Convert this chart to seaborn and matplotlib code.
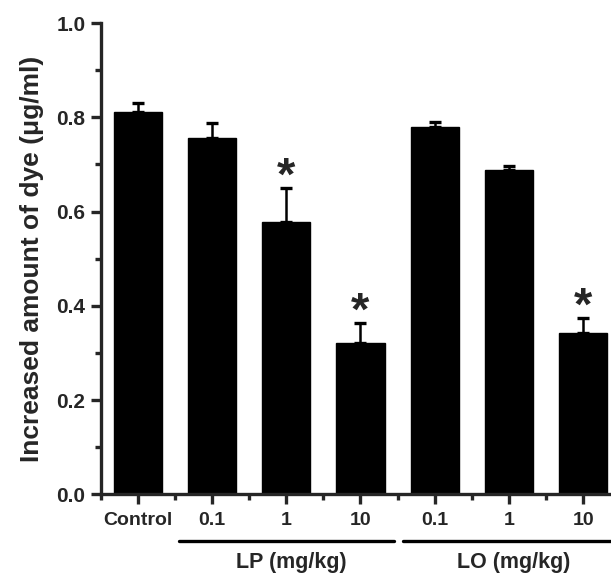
import matplotlib
matplotlib.use("Agg")
import matplotlib.pyplot as plt
import matplotlib.transforms as mtransforms
from matplotlib.ticker import MultipleLocator, FixedLocator
import numpy as np
import pandas as pd
import seaborn as sns

# ── Data ─────────────────────────────────────────────────────────────────────
groups = ["Control", "LP 0.1", "LP 1", "LP 10", "LO 0.1", "LO 1", "LO 10"]
tick_labels = ["Control", "0.1", "1", "10", "0.1", "1", "10"]
means = [0.811, 0.756, 0.577, 0.320, 0.779, 0.688, 0.342]
sems = [0.020, 0.033, 0.074, 0.043, 0.012, 0.009, 0.033]
significant = [False, False, True, True, False, False, True]
# bracket under each dose group: (line start, line end, label centre) in bar units
group_spans = {"LP (mg/kg)": (0.55, 3.45, 2.07), "LO (mg/kg)": (3.57, 6.6, 5.07)}

# ── Style ────────────────────────────────────────────────────────────────────
sns.set_style("ticks")
plt.rcParams["font.family"] = ["Liberation Sans", "DejaVu Sans"]
plt.rcParams["font.weight"] = "bold"

df = pd.DataFrame({"group": groups, "mean": means})

fig = plt.figure(figsize=(6.11, 5.74), dpi=100)
ax = fig.add_axes([0.165, 0.139, 0.85, 0.8206])

sns.barplot(data=df, x="group", y="mean", color="black", edgecolor="black",
            width=0.65, saturation=1, errorbar=None, ax=ax)

x = np.arange(len(groups))
ax.errorbar(x, means, yerr=[np.zeros(len(sems)), sems], fmt="none",
            ecolor="black", elinewidth=1.8, capsize=4.5, capthick=2.4)

# significance stars
for xi, m, s, sig in zip(x, means, sems, significant):
    if sig:
        ax.annotate("*", (xi, m + s), xytext=(0, -8.5), textcoords="offset points",
                    ha="center", va="bottom", fontsize=34, fontweight="bold")

# ── Axes ─────────────────────────────────────────────────────────────────────
ax.set_ylim(0, 1.0)
ax.set_xlim(-0.5, 6.5)
ax.yaxis.set_major_locator(MultipleLocator(0.2))
ax.yaxis.set_minor_locator(MultipleLocator(0.1))
ax.set_yticklabels([f"{v:.1f}" for v in ax.get_yticks()])
ax.xaxis.set_major_locator(FixedLocator(x))
ax.xaxis.set_minor_locator(FixedLocator(np.arange(-0.5, 6.6, 1.0)))
ax.set_xticklabels(tick_labels)

ax.tick_params(axis="both", which="major", length=7, width=2.4,
               labelsize=15, pad=4)
ax.tick_params(axis="both", which="minor", length=4, width=2.4)
ax.tick_params(axis="x", which="major", pad=6, labelsize=14)
for lab in ax.get_xticklabels() + ax.get_yticklabels():
    lab.set_fontweight("bold")

for side in ["left", "bottom"]:
    ax.spines[side].set_linewidth(2.4)
sns.despine(ax=ax)

ax.set_xlabel("")
ax.set_ylabel("Increased amount of dye (\u03bcg/ml)", fontsize=19,
              fontweight="bold", labelpad=9)

# group brackets under the tick labels
trans = mtransforms.blended_transform_factory(ax.transData, ax.transAxes)
for name, (x0, x1, xc) in group_spans.items():
    ax.plot([x0, x1], [-0.10, -0.10], color="black", lw=2.4,
            transform=trans, clip_on=False)
    ax.text(xc, -0.145, name, transform=trans, ha="center", va="center",
            fontsize=15.5, fontweight="bold")

fig.savefig("out.png", dpi=100)
